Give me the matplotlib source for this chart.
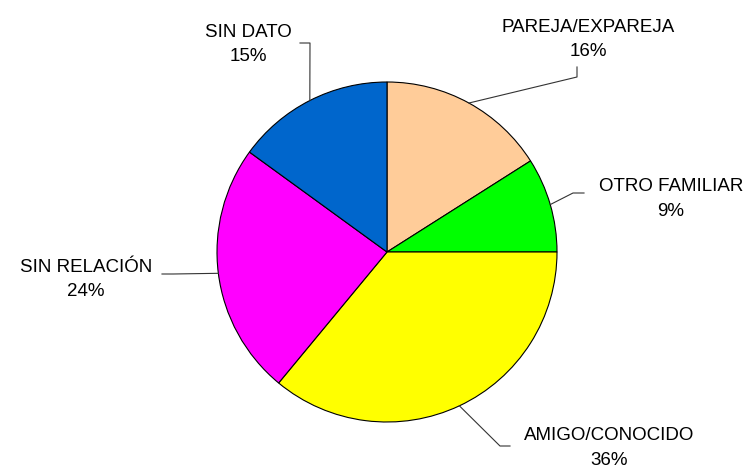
import numpy as np
import matplotlib
matplotlib.use("Agg")
import matplotlib.pyplot as plt

categories = ["PAREJA/EXPAREJA", "OTRO FAMILIAR", "AMIGO/CONOCIDO", "SIN RELACIÓN", "SIN DATO"]
values = [16, 9, 36, 24, 15]
colors = ["#FFCC99", "#00FF00", "#FFFF00", "#FF00FF", "#0066CC"]

W, H = 754, 468
CX, CY, R = 387, 252, 170

# label layout in pixel coords (top-left origin): text center, elbow, end of leader
label_xy = [(588, 39.5), (671, 199), (609, 448), (86, 279.5), (248, 44.5)]
elbows = [(577, 77), (573, 193), (500, 446), (173, 274), (310, 43)]
ends = [(577, 67), (584, 193), (510, 446), (162, 274), (300, 43)]

plt.rcParams['font.family'] = ['Liberation Sans', 'DejaVu Sans']

fig = plt.figure(figsize=(W / 100, H / 100), dpi=100)
ax = fig.add_axes([0, 0, 1, 1])

wedges, _ = ax.pie(values, colors=colors, startangle=90, counterclock=False,
                   center=(CX, H - CY), radius=R,
                   wedgeprops=dict(edgecolor='black', linewidth=0.8))
# pie() resets the limits, so set them afterwards
ax.set_xlim(0, W)
ax.set_ylim(0, H)
ax.set_aspect('equal')
ax.axis('off')

for w, cat, val, txy, el, en in zip(wedges, categories, values, label_xy, elbows, ends):
    mid = np.deg2rad((w.theta1 + w.theta2) / 2)
    sx = CX + R * np.cos(mid)
    sy = (H - CY) + R * np.sin(mid)
    ax.plot([sx, el[0], en[0]], [sy, H - el[1], H - en[1]], color='#333333', lw=0.8)
    ax.text(txy[0], H - txy[1], f"{cat}\n{val}%", ha='center', va='center',
            fontsize=13.5, linespacing=1.6, color='black')

fig.savefig("out.png", dpi=100)
